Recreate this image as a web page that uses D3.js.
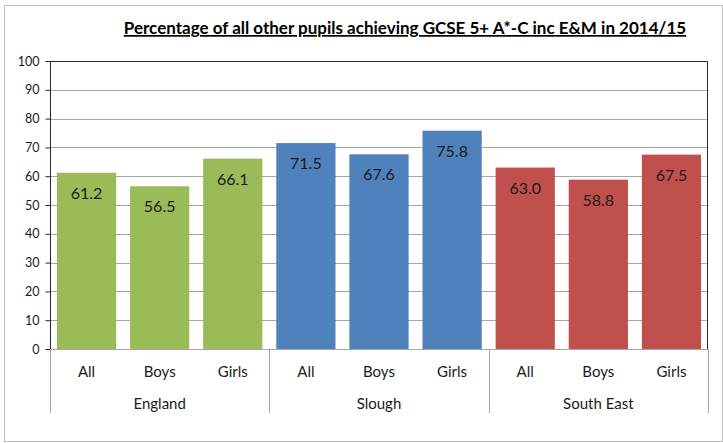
<!DOCTYPE html>
<html>
<head>
<meta charset="utf-8">
<script src="https://cdn.jsdelivr.net/npm/d3@7"></script>
<style>
  body { margin: 0; background: #fff; }
  svg { font-family: Lato, "Open Sans", sans-serif; }
</style>
</head>
<body>
<div id="chart"></div>
<script>
// Données du graphique
var regions = ["England", "Slough", "South East"];
var groups = ["All", "Boys", "Girls"];
var englandValues = [61.2, 56.5, 66.1];
var sloughValues = [71.5, 67.6, 75.8];
var southEastValues = [63.0, 58.8, 67.5];
var yTicks = [0, 10, 20, 30, 40, 50, 60, 70, 80, 90, 100];
var title = "Percentage of all other pupils achieving GCSE 5+ A*-C inc E&M in 2014/15";

var colors = { "England": "#9BBB59", "Slough": "#4F81BD", "South East": "#C0504D" };

var valuesByRegion = {
  "England": englandValues,
  "Slough": sloughValues,
  "South East": southEastValues
};

var data = [];
regions.forEach(function (r) {
  groups.forEach(function (g, i) {
    data.push({ region: r, group: g, key: r + "|" + g, value: valuesByRegion[r][i] });
  });
});

// Dimensions
var width = 723;
var height = 443;
var plotLeft = 50, plotRight = 708, plotTop = 61, plotBottom = 349;

var svg = d3.select("#chart")
  .append("svg")
  .attr("width", width)
  .attr("height", height);

// cadre extérieur
svg.append("rect")
  .attr("x", 4.5).attr("y", 5.5)
  .attr("width", 718).attr("height", 436)
  .attr("fill", "none")
  .attr("stroke", "#bfbfbf");

var x = d3.scaleBand()
  .domain(data.map(function (d) { return d.key; }))
  .range([plotLeft, plotRight])
  .paddingInner(0.19)
  .paddingOuter(0.095);

var y = d3.scaleLinear().domain([0, 100]).range([plotBottom, plotTop]);

// grille
svg.append("g")
  .selectAll("line")
  .data(yTicks.slice(1, -1))
  .enter()
  .append("line")
  .attr("x1", plotLeft).attr("x2", plotRight)
  .attr("y1", function (d) { return Math.round(y(d)) + 0.5; })
  .attr("y2", function (d) { return Math.round(y(d)) + 0.5; })
  .attr("stroke", "#a6a6a6");

// barres
svg.append("g")
  .selectAll("rect")
  .data(data)
  .enter()
  .append("rect")
  .attr("x", function (d) { return x(d.key); })
  .attr("y", function (d) { return y(d.value); })
  .attr("width", x.bandwidth())
  .attr("height", function (d) { return plotBottom - y(d.value); })
  .attr("fill", function (d) { return colors[d.region]; });

// étiquettes des valeurs
svg.append("g")
  .selectAll("text")
  .data(data)
  .enter()
  .append("text")
  .attr("x", function (d) { return x(d.key) + x.bandwidth() / 2; })
  .attr("y", function (d) { return y(d.value) + 26; })
  .attr("text-anchor", "middle")
  .style("font-size", "16px")
  .style("fill", "#1a1a1a")
  .text(function (d) { return d.value.toFixed(1); });

// bordure de la zone de tracé
svg.append("path")
  .attr("d", "M" + (plotLeft + 0.5) + "," + plotBottom + "V" + (plotTop + 0.5) + "H" + (plotRight - 0.5) + "V" + plotBottom)
  .attr("fill", "none")
  .attr("stroke", "#262626");

// axe des y
var yAxis = svg.append("g")
  .attr("transform", "translate(" + (plotLeft + 0.5) + ",0)")
  .call(d3.axisLeft(y).tickValues(yTicks).tickSize(5).tickPadding(6));
yAxis.select(".domain").remove();
yAxis.selectAll("line").attr("stroke", "#262626");
yAxis.selectAll("text")
  .style("font-family", "Lato, sans-serif")
  .style("font-size", "12.5px")
  .style("fill", "#1a1a1a");

// ligne de base
svg.append("line")
  .attr("x1", plotLeft).attr("x2", plotRight)
  .attr("y1", plotBottom + 0.5).attr("y2", plotBottom + 0.5)
  .attr("stroke", "#a6a6a6");

// libellés des catégories
svg.append("g")
  .selectAll("text")
  .data(data)
  .enter()
  .append("text")
  .attr("x", function (d) { return x(d.key) + x.bandwidth() / 2; })
  .attr("y", 377)
  .attr("text-anchor", "middle")
  .style("font-size", "15px")
  .style("fill", "#1a1a1a")
  .text(function (d) { return d.group; });

// séparateurs des régions
var step = x.step();
var regionEdges = [];
regions.forEach(function (r) {
  regionEdges.push(x(r + "|" + groups[0]) - step * 0.095);
});
regionEdges.push(plotRight);
svg.append("g")
  .selectAll("line")
  .data(regionEdges)
  .enter()
  .append("line")
  .attr("x1", function (d) { return Math.round(d) + 0.5; })
  .attr("x2", function (d) { return Math.round(d) + 0.5; })
  .attr("y1", plotBottom).attr("y2", 413)
  .attr("stroke", "#a6a6a6");

// libellés des régions
svg.append("g")
  .selectAll("text")
  .data(regions)
  .enter()
  .append("text")
  .attr("x", function (r, i) { return (regionEdges[i] + regionEdges[i + 1]) / 2; })
  .attr("y", 409)
  .attr("text-anchor", "middle")
  .style("font-size", "15px")
  .style("fill", "#1a1a1a")
  .text(function (r) { return r; });

// titre
svg.append("text")
  .attr("x", 405)
  .attr("y", 34)
  .attr("text-anchor", "middle")
  .style("font-size", "17px")
  .style("font-weight", "bold")
  .style("text-decoration", "underline")
  .style("fill", "#000")
  .text(title);
</script>
</body>
</html>
